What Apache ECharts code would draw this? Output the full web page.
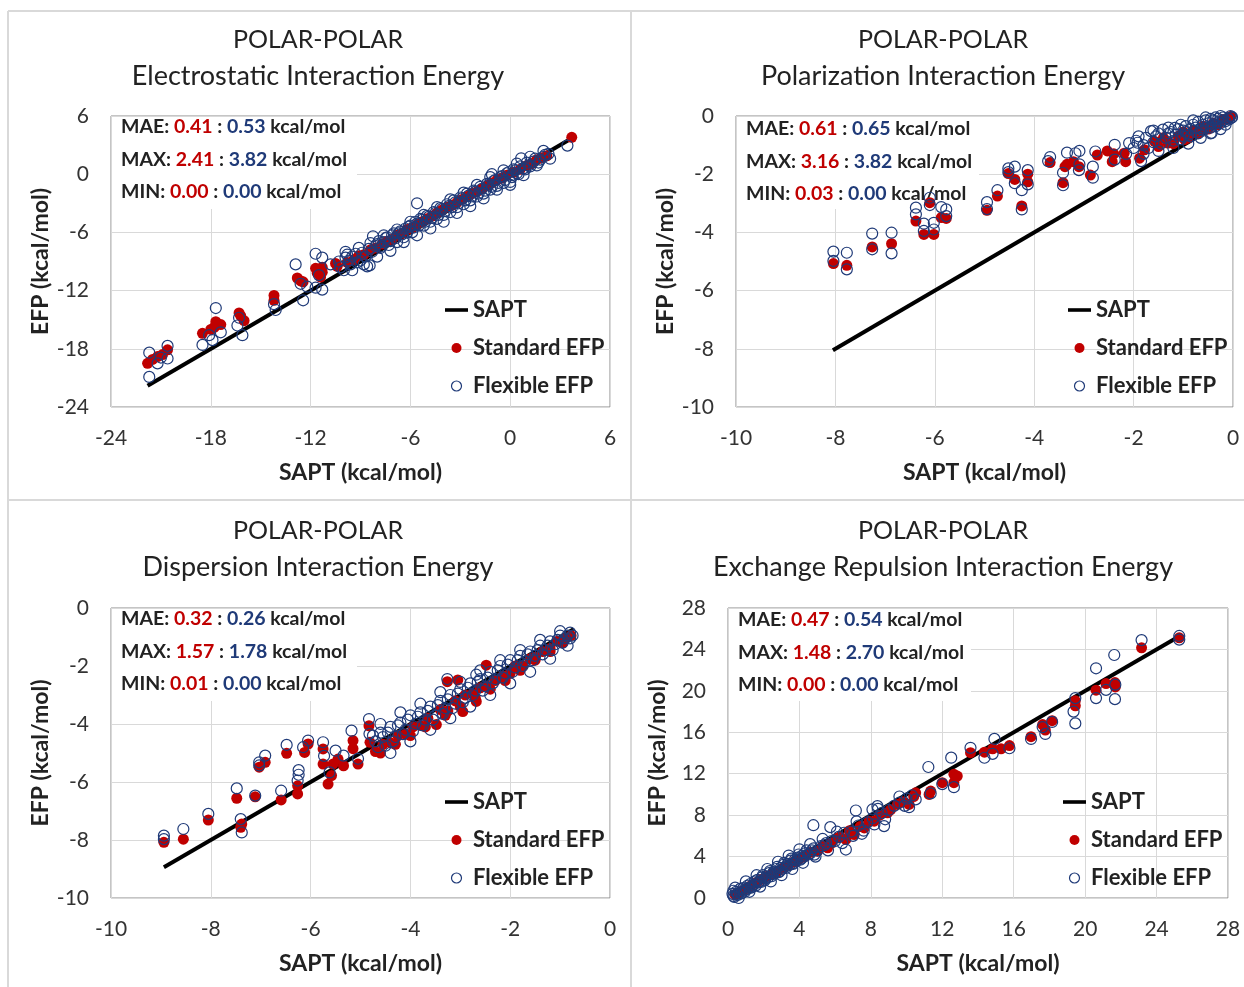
<!DOCTYPE html>
<html>
<head>
<meta charset="utf-8">
<title>POLAR-POLAR EFP vs SAPT</title>
<script src="https://cdn.jsdelivr.net/npm/echarts@6/dist/echarts.min.js"></script>
<style>
    html, body { margin: 0; padding: 0; background: #fff; }
    #chart { width: 1244px; height: 987px; }
</style>
</head>
<body>
<div id="chart"></div>
<script>
// ---- data: [SAPT, EFP] in kcal/mol ----

// Electrostatic
var elecSapt = [[-21.8, -21.8], [3.7, 3.7]];
var elecStd = [
    [-21.8, -19.5], [-21.5, -19.1], [-21.2, -18.8], [-20.9, -18.6], [-20.6, -18.1],
    [-18.5, -16.4], [-18.0, -16.0], [-17.7, -15.2], [-17.4, -15.5], [-17.8, -15.8],
    [-16.3, -14.3], [-16.0, -15.1], [-16.2, -14.6], [-14.2, -12.5], [-14.2, -13.0],
    [-12.8, -10.7], [-12.45, -11.1], [-12.6, -11.0], [-11.7, -9.7], [-11.3, -9.6],
    [-11.4, -10.6], [-11.6, -10.2], [-11.3, -10.1], [-10.5, -9.2], [-10.4, -9.5],
    [-9.8, -9.1], [-9.4, -8.8], [-9.1, -8.4], [-8.8, -8.3], [-8.4, -7.8], [-8.1, -7.6],
    [-7.7, -7.2], [-7.4, -6.9], [-7.1, -6.7], [-6.8, -6.3], [-6.5, -6.1], [-6.2, -5.7],
    [-5.9, -5.5], [-5.6, -5.2], [-5.3, -4.9], [-5.0, -4.6], [-4.7, -4.3], [-4.4, -4.0],
    [-4.1, -3.7], [-3.8, -3.4], [-3.5, -3.2], [-3.2, -2.9], [-2.9, -2.6], [-2.6, -2.3],
    [-2.3, -2.0], [-2.0, -1.8], [-1.7, -1.5], [-1.4, -1.2], [-1.1, -0.9], [-0.8, -0.6],
    [-0.5, -0.4], [-0.2, -0.1], [0.2, 0.2], [0.6, 0.5], [1.0, 0.9], [1.3, 1.1],
    [1.6, 1.5], [1.9, 1.7], [2.2, 1.9], [3.7, 3.8]
];
var elecFlex = [
    [-21.7, -18.4], [-21.7, -20.9], [-20.6, -17.7], [-21.2, -19.5], [-20.6, -19.0], [-21.0, -18.9],
    [-17.7, -13.8], [-18.5, -17.6], [-17.9, -17.1], [-17.4, -16.3], [-18.1, -16.6],
    [-16.1, -16.6], [-16.4, -15.6], [-16.3, -14.8], [-14.1, -14.0], [-14.2, -13.4],
    [-12.9, -9.3], [-11.7, -8.2], [-11.3, -8.6], [-12.45, -13.0], [-11.3, -11.9], [-11.7, -11.7],
    [-12.6, -11.3], [-11.5, -10.4], [-12.2, -11.6], [-9.8, -8.3],
    [-10.8, -9.3], [-10.2, -9.6], [-9.9, -8.6], [-9.6, -9.3], [-9.3, -8.2], [-9.0, -8.9],
    [-8.6, -9.5], [-8.45, -9.4], [-8.25, -6.4], [-8.0, -7.2], [-7.8, -7.6], [-7.5, -6.6],
    [-7.3, -7.3], [-7.0, -6.1], [-6.8, -7.0], [-6.6, -5.9], [-6.4, -6.5], [-6.1, -5.4],
    [-5.9, -6.0], [-5.6, -3.0], [-5.6, -5.1], [-5.4, -4.6], [-5.2, -5.3], [-5.0, -4.3],
    [-4.8, -4.9], [-4.6, -3.9], [-4.4, -4.6], [-4.2, -3.5], [-4.0, -4.2], [-3.8, -3.1],
    [-3.6, -3.9], [-3.4, -2.7], [-3.2, -3.4], [-3.0, -2.4], [-2.8, -3.1], [-2.6, -2.0],
    [-2.4, -2.7], [-2.2, -1.7], [-2.0, -2.3], [-1.8, -1.3], [-1.6, -2.0], [-1.4, -1.0],
    [-1.1, 0.0], [-1.2, -1.6], [-1.0, -0.7], [-0.8, -1.2], [-0.6, -0.3], [-0.4, -0.9],
    [-0.2, 0.1], [0.0, -1.1], [0.1, -0.3], [0.3, 0.4], [0.5, 0.0], [0.66, 1.64],
    [0.8, 0.6], [1.0, 1.2], [1.2, 0.8], [1.5, 1.6], [1.8, 1.5], [2.1, 2.0], [3.44, 2.95],
    [-10.3, -9.0], [-10.0, -9.9], [-9.7, -8.9], [-9.5, -8.5], [-9.2, -9.1], [-8.9, -8.1],
    [-8.7, -8.5], [-8.5, -7.7], [-8.3, -8.0], [-8.1, -7.4], [-7.9, -6.9], [-7.7, -7.4],
    [-7.6, -7.0], [-7.4, -6.5], [-7.2, -6.9], [-7.1, -6.3], [-6.9, -6.6], [-6.7, -6.1],
    [-6.5, -6.2], [-6.3, -5.6], [-6.2, -6.0], [-6.0, -5.3], [-5.8, -5.5], [-5.7, -4.9],
    [-5.5, -5.3], [-5.3, -4.7], [-5.1, -4.9], [-4.9, -4.4], [-4.7, -4.5], [-4.5, -4.0],
    [-4.3, -4.2], [-4.1, -3.6], [-3.9, -3.8], [-3.7, -3.3], [-3.5, -3.4], [-3.3, -2.9],
    [-3.1, -3.0], [-2.9, -2.5], [-2.7, -2.7], [-2.5, -2.2], [-2.3, -2.3], [-2.1, -1.8],
    [-1.9, -2.0], [-1.7, -1.5], [-1.5, -1.7], [-1.3, -1.1], [-1.1, -1.3], [-0.9, -0.6],
    [-0.7, -0.9], [-0.5, -0.2], [-0.3, -0.6], [-0.1, 0.2], [0.1, -0.1], [0.2, 0.5],
    [0.4, 0.1], [0.6, 0.8], [0.9, 0.5], [1.1, 0.9], [1.4, 1.3], [1.7, 1.2], [2.0, 1.8], [2.3, 2.1],
    [-9.9, -8.0], [-9.5, -9.9], [-9.1, -7.6], [-8.8, -9.3], [-8.4, -7.1], [-8.0, -8.5],
    [-7.6, -6.3], [-7.2, -7.9], [-6.8, -5.7], [-6.4, -7.0], [-6.0, -4.9], [-5.6, -6.3],
    [-5.2, -4.2], [-4.8, -5.6], [-4.4, -3.4], [-4.0, -4.9], [-3.6, -2.6], [-3.2, -4.0],
    [-2.8, -1.9], [-2.4, -3.3], [-2.0, -1.1], [-1.6, -2.5], [-1.2, -0.3], [-0.8, -1.6],
    [-0.4, 0.4], [0.0, -0.8], [0.4, 1.1], [0.8, -0.1], [1.2, 1.8], [1.6, 0.9], [2.0, 2.4], [2.4, 1.6]
];

// Polarization
var polSapt = [[-8.05, -8.05], [0, 0]];
var polStd = [
    [-8.04, -5.07], [-7.77, -5.13], [-7.26, -4.50], [-6.87, -4.39], [-6.38, -3.61], [-6.22, -4.07],
    [-6.10, -2.98], [-6.02, -4.07], [-5.87, -3.49], [-5.77, -3.52], [-4.95, -3.24], [-4.74, -2.75],
    [-4.52, -1.98], [-4.39, -2.18], [-4.25, -3.09], [-4.13, -2.26], [-4.13, -2.0], [-3.68, -1.60],
    [-3.42, -2.29], [-3.34, -1.66], [-3.38, -1.74], [-3.21, -1.57], [-3.1, -1.74], [-2.87, -2.03],
    [-2.73, -1.34], [-2.53, -1.20], [-2.43, -1.57], [-2.4, -1.3], [-2.16, -1.57], [-2.19, -1.28],
    [-1.88, -1.45], [-1.78, -1.16], [-1.58, -0.87], [-1.31, -0.93], [-1.1, -0.7], [-0.97, -0.81],
    [-1.5, -1.05], [-1.4, -0.75], [-1.2, -0.95], [-1.0, -0.55], [-0.9, -0.75], [-0.8, -0.5],
    [-0.7, -0.6], [-0.6, -0.35], [-0.5, -0.45], [-0.4, -0.25], [-0.3, -0.3], [-0.2, -0.12],
    [-0.1, -0.1], [-0.05, -0.02]
];
var polFlex = [
    [-8.04, -4.66], [-8.04, -4.98], [-7.77, -4.70], [-7.77, -5.27], [-7.26, -4.04], [-7.26, -4.58],
    [-6.87, -4.01], [-6.87, -4.72], [-6.38, -3.15], [-6.38, -3.38], [-6.22, -3.70], [-6.22, -3.95],
    [-6.10, -2.81], [-6.10, -3.06], [-6.02, -3.67], [-6.02, -3.9], [-5.87, -3.13], [-5.77, -3.21],
    [-5.77, -3.44], [-4.95, -2.96], [-4.95, -3.2], [-4.74, -2.55], [-4.52, -1.80], [-4.52, -1.93],
    [-4.39, -1.74], [-4.39, -2.31], [-4.25, -2.55], [-4.25, -3.21], [-4.13, -1.86], [-4.13, -2.35],
    [-3.68, -1.41], [-3.72, -1.55], [-3.42, -2.38], [-3.42, -1.95], [-3.34, -1.26], [-3.17, -1.28],
    [-3.1, -1.86], [-3.09, -1.20], [-3.09, -1.66], [-2.82, -1.74], [-2.82, -2.12], [-2.77, -1.22],
    [-2.38, -0.99], [-2.38, -1.5], [-2.09, -0.93], [-2.15, -1.3], [-1.92, -0.92], [-1.85, -1.55],
    [-1.65, -0.52], [-1.41, -0.47], [-1.17, -0.41], [-0.43, -0.58],
    [-1.6, -0.9], [-1.5, -0.6], [-1.35, -0.75], [-1.25, -0.55], [-1.1, -0.45], [-1.05, -0.8],
    [-0.95, -0.35], [-0.9, -0.65], [-0.8, -0.3], [-0.75, -0.55], [-0.7, -0.2], [-0.65, -0.45],
    [-0.55, -0.15], [-0.5, -0.38], [-0.45, -0.1], [-0.4, -0.3], [-0.35, -0.05], [-0.3, -0.22],
    [-0.25, 0.0], [-0.2, -0.15], [-0.15, 0.02], [-0.1, -0.08], [-0.05, 0.0], [-0.02, -0.04],
    [-2.0, -1.1], [-1.95, -0.85], [-1.8, -1.0], [-1.75, -0.75], [-1.7, -1.1], [-1.55, -0.7],
    [-1.45, -0.95], [-1.3, -0.6], [-1.2, -0.85], [-1.15, -0.65], [-1.0, -0.5], [-1.0, -0.7],
    [-0.95, -0.55], [-0.85, -0.45], [-0.85, -0.7], [-0.75, -0.4], [-0.7, -0.6], [-0.6, -0.3],
    [-0.6, -0.5], [-0.5, -0.25], [-0.45, -0.4], [-0.4, -0.15], [-0.35, -0.35], [-0.3, -0.1],
    [-0.25, -0.25], [-0.2, -0.05], [-0.15, -0.18], [-0.12, 0.05], [-0.08, -0.12], [-0.05, 0.05],
    [-0.03, -0.06], [-0.01, 0.02],
    [-1.9, -0.7], [-1.8, -1.3], [-1.6, -0.5], [-1.5, -1.2], [-1.3, -0.4], [-1.2, -1.1],
    [-1.05, -0.3], [-0.9, -0.95], [-0.8, -0.15], [-0.65, -0.75], [-0.55, -0.05], [-0.45, -0.6],
    [-0.3, 0.05], [-0.25, -0.45], [-0.1, 0.08], [-0.15, -0.3]
];

// Dispersion
var dispSapt = [[-8.94, -8.94], [-0.73, -0.73]];
var dispStd = [
    [-8.94, -8.08], [-8.55, -7.97], [-8.05, -7.31], [-7.48, -6.56], [-7.40, -7.56], [-7.38, -7.45],
    [-7.11, -6.51], [-7.03, -5.49], [-6.91, -5.32], [-6.59, -6.62], [-6.48, -5.01], [-6.26, -6.41],
    [-6.26, -6.13], [-6.12, -4.98], [-6.05, -4.69], [-5.75, -4.86], [-5.75, -5.38], [-5.65, -6.07],
    [-5.58, -5.78], [-5.55, -5.38], [-5.45, -5.21], [-5.34, -5.44], [-5.15, -4.57], [-5.15, -4.85],
    [-5.05, -5.38], [-4.83, -4.06], [-4.81, -4.63],
    [-4.7, -4.95], [-4.55, -4.7], [-4.4, -4.65], [-4.25, -4.4], [-4.1, -4.35], [-3.95, -4.1],
    [-3.8, -4.05], [-3.65, -3.8], [-3.48, -4.02], [-3.4, -3.5], [-3.26, -2.54], [-3.05, -2.48],
    [-3.25, -3.55], [-3.1, -3.2], [-2.95, -3.57], [-2.9, -3.0], [-2.75, -2.95], [-2.68, -3.22],
    [-2.6, -2.75], [-2.48, -1.97], [-2.45, -2.7], [-2.3, -2.5], [-2.15, -2.35], [-2.0, -2.25],
    [-1.9, -2.0], [-1.75, -2.0], [-1.6, -1.75], [-1.5, -1.7], [-1.35, -1.5], [-1.2, -1.4],
    [-1.05, -1.15], [-0.9, -1.05], [-0.78, -0.95],
    [-4.6, -5.0], [-4.3, -4.7], [-4.0, -4.4], [-3.7, -4.1], [-3.3, -3.7], [-3.0, -3.4],
    [-2.7, -3.1], [-2.4, -2.8], [-2.1, -2.5], [-1.8, -2.15], [-1.5, -1.8], [-1.2, -1.5], [-0.95, -1.2]
];
var dispFlex = [
    [-8.94, -7.85], [-8.94, -7.97], [-8.55, -7.62], [-8.05, -7.10], [-7.48, -6.22], [-7.40, -7.28],
    [-7.38, -7.74], [-7.11, -6.47], [-7.03, -5.32], [-7.03, -5.43], [-6.91, -5.09], [-6.59, -6.30],
    [-6.48, -4.72], [-6.26, -5.95], [-6.24, -5.59], [-6.24, -5.75], [-6.15, -4.80], [-6.05, -4.57],
    [-5.75, -4.63], [-5.73, -5.1], [-5.62, -5.67], [-5.5, -4.92], [-5.34, -5.09], [-5.18, -4.23],
    [-5.05, -5.2], [-4.83, -3.83], [-4.82, -4.34],
    [-4.7, -4.6], [-4.6, -4.3], [-4.5, -4.75], [-4.4, -4.1], [-4.3, -4.45], [-4.2, -3.95],
    [-4.1, -4.2], [-4.0, -3.7], [-3.9, -4.0], [-3.8, -3.6], [-3.7, -3.85], [-3.6, -3.4],
    [-3.5, -3.7], [-3.4, -3.2], [-3.3, -3.45], [-3.26, -2.45], [-3.2, -3.0], [-3.1, -3.3],
    [-3.0, -2.8], [-2.9, -3.1], [-2.8, -2.6], [-2.68, -2.3], [-2.7, -2.85], [-2.6, -2.45],
    [-2.5, -2.7], [-2.4, -2.2], [-2.3, -2.45], [-2.2, -2.0], [-2.1, -2.25], [-2.0, -1.8],
    [-1.9, -2.05], [-1.8, -1.65], [-1.7, -1.85], [-1.6, -1.5], [-1.5, -1.65], [-1.4, -1.3],
    [-1.3, -1.45], [-1.2, -1.15], [-1.1, -1.25], [-1.0, -0.95], [-0.9, -1.05], [-0.8, -0.85],
    [-0.75, -0.95],
    [-4.75, -4.4], [-4.65, -4.8], [-4.55, -4.45], [-4.45, -4.3], [-4.35, -4.6], [-4.25, -4.05],
    [-4.15, -4.35], [-4.05, -3.85], [-3.95, -4.25], [-3.85, -3.75], [-3.75, -4.05], [-3.65, -3.55],
    [-3.55, -3.85], [-3.45, -3.35], [-3.35, -3.65], [-3.25, -3.15], [-3.15, -3.45], [-3.05, -2.95],
    [-2.95, -3.25], [-2.85, -2.75], [-2.75, -3.0], [-2.65, -2.55], [-2.55, -2.85], [-2.45, -2.4],
    [-2.35, -2.6], [-2.25, -2.15], [-2.15, -2.4], [-2.05, -1.95], [-1.95, -2.2], [-1.85, -1.8],
    [-1.75, -2.0], [-1.65, -1.6], [-1.55, -1.8], [-1.45, -1.45], [-1.35, -1.6], [-1.25, -1.3],
    [-1.15, -1.45], [-1.05, -1.1], [-0.95, -1.2], [-0.85, -0.95], [-0.8, -1.05],
    [-4.6, -4.0], [-4.4, -5.0], [-4.2, -3.6], [-4.0, -4.6], [-3.8, -3.3], [-3.6, -4.2],
    [-3.4, -2.9], [-3.2, -3.8], [-3.0, -2.55], [-2.8, -3.4], [-2.6, -2.15], [-2.4, -3.0],
    [-2.2, -1.8], [-2.0, -2.6], [-1.8, -1.45], [-1.6, -2.2], [-1.4, -1.1], [-1.2, -1.75],
    [-1.0, -0.8], [-0.85, -1.3]
];

// Exchange repulsion
var exchSapt = [[0.3, 0.3], [25.3, 25.3]];
var exchStd = [
    [25.27, 25.12], [23.16, 24.16], [21.17, 20.70], [21.67, 20.8], [21.69, 20.38], [20.61, 20.06],
    [19.45, 19.04], [19.45, 18.56], [18.15, 17.12], [17.62, 16.74], [17.77, 16.22], [16.97, 15.58],
    [15.76, 14.72], [15.29, 14.4], [14.82, 14.4], [14.36, 14.08], [13.58, 14.03], [12.65, 11.94],
    [12.84, 11.77], [12.65, 11.13], [12.0, 11.13], [11.35, 10.32], [11.26, 10.0], [10.51, 10.16],
    [10.14, 9.03], [9.49, 9.03], [8.93, 8.23], [8.19, 7.42], [7.63, 6.77], [7.07, 6.13],
    [6.6, 5.65], [6.14, 5.8], [5.58, 4.84], [5.02, 4.52],
    [4.6, 4.4], [4.3, 4.0], [4.0, 3.8], [3.7, 3.5], [3.4, 3.2], [3.1, 2.9], [2.8, 2.6],
    [2.5, 2.35], [2.2, 2.1], [1.9, 1.8], [1.6, 1.5], [1.3, 1.2], [1.0, 0.9], [0.7, 0.6], [0.4, 0.35],
    [5.3, 5.0], [5.8, 5.3], [6.3, 5.9], [6.8, 6.5], [7.4, 6.9], [7.9, 7.4], [8.5, 8.0],
    [9.1, 8.5], [9.8, 9.3], [10.4, 9.8]
];
var exchFlex = [
    [25.27, 25.3], [25.27, 24.95], [23.16, 24.9], [21.63, 23.46], [20.61, 22.18], [21.17, 20.1],
    [21.67, 19.2], [21.69, 20.6], [20.61, 19.3], [19.45, 19.3], [19.35, 18.0], [19.45, 16.86],
    [18.15, 17.0], [17.77, 15.84], [17.62, 16.5], [16.97, 15.36], [15.76, 14.46], [14.92, 15.36],
    [14.82, 13.92], [14.36, 13.54], [13.58, 14.5], [12.5, 13.55], [11.22, 12.65], [12.65, 10.7],
    [12.0, 11.0], [11.35, 10.1], [10.51, 9.52], [10.14, 8.77], [9.6, 9.2], [8.74, 6.94],
    [8.37, 8.87], [8.09, 8.55], [8.2, 7.1], [7.6, 6.5], [7.16, 8.45], [7.0, 6.0],
    [4.78, 7.03], [5.73, 6.84], [6.6, 4.68], [6.0, 5.5], [5.4, 5.1], [4.84, 4.19],
    [4.7, 4.6], [4.5, 4.2], [4.3, 4.3], [4.1, 3.8], [3.9, 3.9], [3.7, 3.4], [3.5, 3.6],
    [3.3, 3.1], [3.1, 3.2], [2.9, 2.6], [2.7, 2.8], [2.5, 2.3], [2.3, 2.4], [2.1, 1.9],
    [1.9, 2.0], [1.7, 1.5], [1.5, 1.6], [1.3, 1.0], [1.1, 1.2], [0.9, 0.7], [0.7, 0.9],
    [0.5, 0.4], [0.3, 0.7], [0.3, 0.2],
    [0.25, 0.4], [0.35, 0.1], [0.45, 0.6], [0.55, 0.3], [0.65, 0.55], [0.75, 0.45], [0.85, 0.95],
    [0.95, 0.6], [1.05, 0.85], [1.15, 1.0], [1.25, 1.35], [1.35, 1.1], [1.45, 1.3], [1.55, 1.2],
    [1.65, 1.75], [1.75, 1.6], [1.85, 1.55], [1.95, 2.2], [2.05, 1.7], [2.15, 2.1], [2.25, 2.0],
    [2.35, 2.6], [2.45, 2.1], [2.55, 2.5], [2.65, 2.4], [2.75, 3.0], [2.85, 2.5], [2.95, 2.9],
    [3.05, 2.8], [3.15, 3.4], [3.25, 2.9], [3.35, 3.3], [3.45, 3.2], [3.55, 3.8], [3.65, 3.3],
    [3.75, 3.7], [3.85, 3.6], [3.95, 4.2], [4.05, 3.7], [4.15, 4.1], [4.25, 4.0], [4.4, 4.6],
    [4.6, 4.3], [4.8, 4.8], [5.0, 4.6], [5.2, 5.0], [5.5, 5.3], [5.8, 5.5], [6.2, 5.9],
    [6.5, 6.3], [6.9, 6.4], [7.3, 7.0], [7.8, 7.3], [8.1, 7.7], [8.6, 8.2], [9.0, 8.5],
    [9.3, 8.9], [10.0, 9.6], [10.3, 9.9],
    [0.4, 1.0], [0.6, 0.0], [1.0, 1.6], [1.2, 0.6], [1.6, 2.2], [1.8, 1.1], [2.2, 2.8],
    [2.4, 1.6], [2.8, 3.5], [3.0, 2.2], [3.4, 4.1], [3.6, 2.8], [4.0, 4.7], [4.2, 3.4],
    [4.6, 5.2], [4.9, 4.0], [5.3, 5.7], [5.6, 4.6], [6.1, 6.4], [6.4, 5.3], [7.2, 7.4],
    [7.5, 6.2], [8.4, 8.6], [8.8, 7.6], [9.6, 9.8], [9.9, 8.9]
];

// axis ranges [min, max, interval] per panel
var elecRange = [-24, 6, 6];
var polRange = [-10, 0, 2];
var dispRange = [-10, 0, 2];
var exchRange = [0, 28, 4];

// panel titles and error stats (MAE, MAX, MIN : standard, flexible)
var subTitles = ['Electrostatic Interaction Energy', 'Polarization Interaction Energy',
    'Dispersion Interaction Energy', 'Exchange Repulsion Interaction Energy'];
var maeVals = [['0.41', '0.53'], ['0.61', '0.65'], ['0.32', '0.26'], ['0.47', '0.54']];
var maxVals = [['2.41', '3.82'], ['3.16', '3.82'], ['1.57', '1.78'], ['1.48', '2.70']];
var minVals = [['0.00', '0.00'], ['0.03', '0.00'], ['0.01', '0.00'], ['0.00', '0.00']];

var font = 'Lato, "Open Sans", sans-serif';
var red = '#c00000';
var navy = '#1f3a78';

// plot rectangles of the four panels
var grids = [
    {left: 111, top: 116, width: 499, height: 291},
    {left: 736, top: 116, width: 497, height: 291},
    {left: 111, top: 608, width: 499, height: 290},
    {left: 728, top: 608, width: 500, height: 290}
];
var titleX = [318, 943, 318, 943];      // title centres
var titleY = [40, 40, 531, 531];
var statY = [127, 129, 619, 620];       // centre of the MAE line
var statBoxW = [245, 242, 245, 242];    // white box behind the stats

var panels = [
    {sapt: elecSapt, std: elecStd, flex: elecFlex, range: elecRange},
    {sapt: polSapt, std: polStd, flex: polFlex, range: polRange},
    {sapt: dispSapt, std: dispStd, flex: dispFlex, range: dispRange},
    {sapt: exchSapt, std: exchStd, flex: exchFlex, range: exchRange}
];

function makeAxis(i, range, isX) {
    return {
        type: 'value',
        gridIndex: i,
        min: range[0],
        max: range[1],
        interval: range[2],
        name: isX ? 'SAPT (kcal/mol)' : 'EFP (kcal/mol)',
        nameLocation: 'middle',
        nameGap: isX ? 54 : 59,
        nameTextStyle: {fontFamily: font, fontSize: 23, fontWeight: 'bold', color: '#222'},
        axisLine: {show: false},
        axisTick: {show: false},
        axisLabel: {fontFamily: font, fontSize: 21, color: '#333', margin: isX ? 21 : 22},
        splitLine: {lineStyle: {color: '#d9d9d9', width: 1}}
    };
}

var xAxes = [], yAxes = [], series = [], legends = [], graphics = [];

for (var i = 0; i < 4; i++) {
    var p = panels[i];
    var g = grids[i];
    xAxes.push(makeAxis(i, p.range, true));
    yAxes.push(makeAxis(i, p.range, false));

    series.push({
        name: 'SAPT', type: 'line', xAxisIndex: i, yAxisIndex: i,
        data: p.sapt, symbol: 'none', z: 3,
        lineStyle: {color: '#000', width: 4},
        itemStyle: {color: '#000'}
    });
    series.push({
        name: 'Standard EFP', type: 'scatter', xAxisIndex: i, yAxisIndex: i,
        data: p.std, symbolSize: 11, z: 4,
        itemStyle: {color: red, opacity: 1}
    });
    series.push({
        name: 'Flexible EFP', type: 'scatter', xAxisIndex: i, yAxisIndex: i,
        data: p.flex, symbolSize: 11, z: 5,
        itemStyle: {color: 'transparent', borderColor: navy, borderWidth: 1.2, opacity: 1}
    });

    legends.push({
        orient: 'vertical',
        left: g.left + g.width - 170,
        top: g.top + 178,
        itemWidth: 23,
        itemHeight: 10,
        itemGap: 16,
        selectedMode: false,
        textStyle: {fontFamily: font, fontSize: 22, fontWeight: 'bold', color: '#222', lineHeight: 20},
        data: [
            {name: 'SAPT', icon: 'path://M0,0H23V3.6H0Z', itemStyle: {color: '#000'}},
            {name: 'Standard EFP', icon: 'circle', itemStyle: {color: red}},
            {name: 'Flexible EFP', icon: 'circle',
                itemStyle: {color: 'transparent', borderColor: navy, borderWidth: 1.2}}
        ]
    });

    // two-line panel title
    graphics.push({
        type: 'text', x: titleX[i], y: titleY[i],
        style: {text: 'POLAR-POLAR', font: '25px ' + font, fill: '#222', align: 'center', verticalAlign: 'middle'}
    });
    graphics.push({
        type: 'text', x: titleX[i], y: titleY[i] + 36,
        style: {text: subTitles[i], font: '27px ' + font, fill: '#222', align: 'center', verticalAlign: 'middle'}
    });

    // error stats: white box hides the gridlines, the points still draw over it
    graphics.push({
        type: 'rect', z: 1,
        shape: {x: g.left + 1, y: g.top + 1, width: statBoxW[i], height: 92},
        style: {fill: '#fff'}
    });
    var statLines = [['MAE', maeVals[i]], ['MAX', maxVals[i]], ['MIN', minVals[i]]].map(function (s) {
        return '{k|' + s[0] + ': }{r|' + s[1][0] + '}{k| : }{b|' + s[1][1] + '}{k| kcal/mol}';
    });
    var base = {fontFamily: font, fontSize: 19.5, fontWeight: 'bold', lineHeight: 32.5};
    graphics.push({
        type: 'text', x: g.left + 10, y: statY[i] - 16.25,
        z: 2,
        style: {
            text: statLines.join('\n'),
            verticalAlign: 'top',
            rich: {
                k: Object.assign({fill: '#222'}, base),
                r: Object.assign({fill: red}, base),
                b: Object.assign({fill: navy}, base)
            }
        }
    });
}

// panel frame and separators
var sep = {stroke: '#d9d9d9', lineWidth: 2};
graphics.push({type: 'line', shape: {x1: 8, y1: 11, x2: 1244, y2: 11}, style: sep, z: -1});
graphics.push({type: 'line', shape: {x1: 8, y1: 11, x2: 8, y2: 987}, style: sep, z: -1});
graphics.push({type: 'line', shape: {x1: 631, y1: 11, x2: 631, y2: 987}, style: sep, z: -1});
graphics.push({type: 'line', shape: {x1: 8, y1: 500, x2: 1244, y2: 500}, style: sep, z: -1});

var chart = echarts.init(document.getElementById('chart'), null, {renderer: 'canvas'});
chart.setOption({
    backgroundColor: '#fff',
    animation: false,
    grid: grids.map(function (g) {
        return Object.assign({show: true, borderColor: '#8a8a8a', borderWidth: 1, containLabel: false}, g);
    }),
    xAxis: xAxes,
    yAxis: yAxes,
    legend: legends,
    series: series,
    graphic: graphics
});
</script>
</body>
</html>
